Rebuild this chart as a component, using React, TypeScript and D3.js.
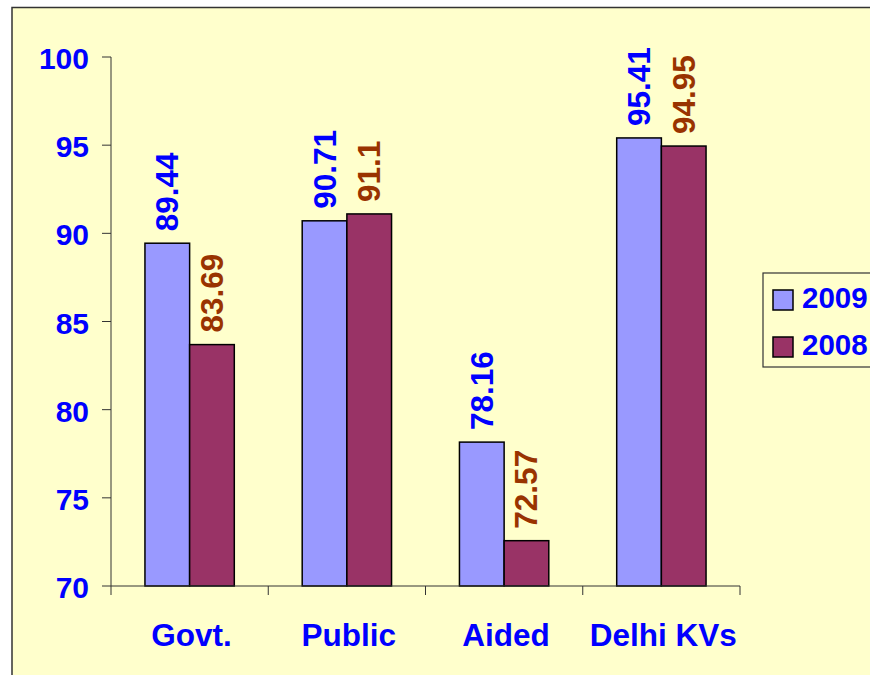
import React from 'react';
import * as d3 from 'd3';

const categories = ['Govt.', 'Public', 'Aided', 'Delhi KVs'];
const seriesNames = ['2009', '2008'];
const values2009 = [89.44, 90.71, 78.16, 95.41];
const values2008 = [83.69, 91.1, 72.57, 94.95];
const yTicks = [70, 75, 80, 85, 90, 95, 100];

const barColors = ['#9999FF', '#993366'];
const labelColors = ['#0000FF', '#993300'];
const FONT = '"Liberation Sans", Arial, sans-serif';

const App: React.FC = () => {
  const width = 870;
  const height = 675;
  const plotLeft = 111;
  const plotRight = 740;
  const plotTop = 57;
  const plotBottom = 586;

  const y = d3.scaleLinear().domain([70, 100]).range([plotBottom, plotTop]);
  const x0 = d3.scaleBand<string>().domain(categories).range([plotLeft, plotRight]);
  const x1 = d3
    .scaleBand<string>()
    .domain(seriesNames)
    .range([0, x0.bandwidth()])
    .paddingInner(0)
    .paddingOuter(0.76);

  const series = [values2009, values2008];

  return (
    <svg
      width={width}
      height={height}
      style={{ position: 'absolute', left: 0, top: 0, display: 'block', background: '#FFFFFF' }}
    >
      {/* chart area */}
      <rect x={12} y={7.5} width={900} height={700} fill="#FFFFCC" stroke="#333" strokeWidth={1.5} />

      {/* y axis */}
      <line x1={plotLeft} x2={plotLeft} y1={plotTop} y2={plotBottom} stroke="#333" strokeWidth={1} />
      {yTicks.map((t) => (
        <g key={t}>
          <line x1={plotLeft - 9} x2={plotLeft} y1={y(t)} y2={y(t)} stroke="#333" />
          <text
            x={89}
            y={y(t)}
            dy="0.4em"
            textAnchor="end"
            fontFamily={FONT}
            fontWeight="bold"
            fontSize={30}
            fill="#0000FF"
          >
            {t}
          </text>
        </g>
      ))}

      {/* bars */}
      {categories.map((c, i) => (
        <g key={c} transform={`translate(${x0(c)},0)`}>
          {seriesNames.map((s, j) => {
            const v = series[j][i];
            const bx = x1(s) as number;
            const bw = x1.bandwidth();
            return (
              <g key={s}>
                <rect
                  x={bx}
                  y={y(v)}
                  width={bw}
                  height={plotBottom - y(v)}
                  fill={barColors[j]}
                  stroke="#000"
                  strokeWidth={1.5}
                />
                <text
                  transform={`translate(${bx + bw / 2 + 11},${y(v) - 12}) rotate(-90)`}
                  fontFamily={FONT}
                  fontWeight="bold"
                  fontSize={31.5}
                  fill={labelColors[j]}
                >
                  {v}
                </text>
              </g>
            );
          })}
        </g>
      ))}

      {/* x axis */}
      <line x1={plotLeft} x2={plotRight} y1={plotBottom} y2={plotBottom} stroke="#333" strokeWidth={1} />
      {[...categories.map((c) => x0(c) as number), plotRight].map((tx, i) => (
        <line key={i} x1={tx} x2={tx} y1={plotBottom} y2={plotBottom + 9} stroke="#333" />
      ))}
      {categories.map((c) => (
        <text
          key={c}
          x={(x0(c) as number) + x0.bandwidth() / 2 + 2}
          y={646}
          textAnchor="middle"
          fontFamily={FONT}
          fontWeight="bold"
          fontSize={31.5}
          fill="#0000FF"
        >
          {c}
        </text>
      ))}

      {/* legend */}
      <rect x={763} y={273} width={150} height={94} fill="#FFFFCC" stroke="#333" strokeWidth={1.2} />
      {seriesNames.map((s, j) => (
        <g key={s} transform={`translate(773,${290 + j * 47})`}>
          <rect x={0} y={0} width={20} height={20} fill={barColors[j]} stroke="#000" strokeWidth={1.5} />
          <text x={29} y={18} fontFamily={FONT} fontWeight="bold" fontSize={29.5} fill="#0000FF">
            {s}
          </text>
        </g>
      ))}
    </svg>
  );
};

export default App;
